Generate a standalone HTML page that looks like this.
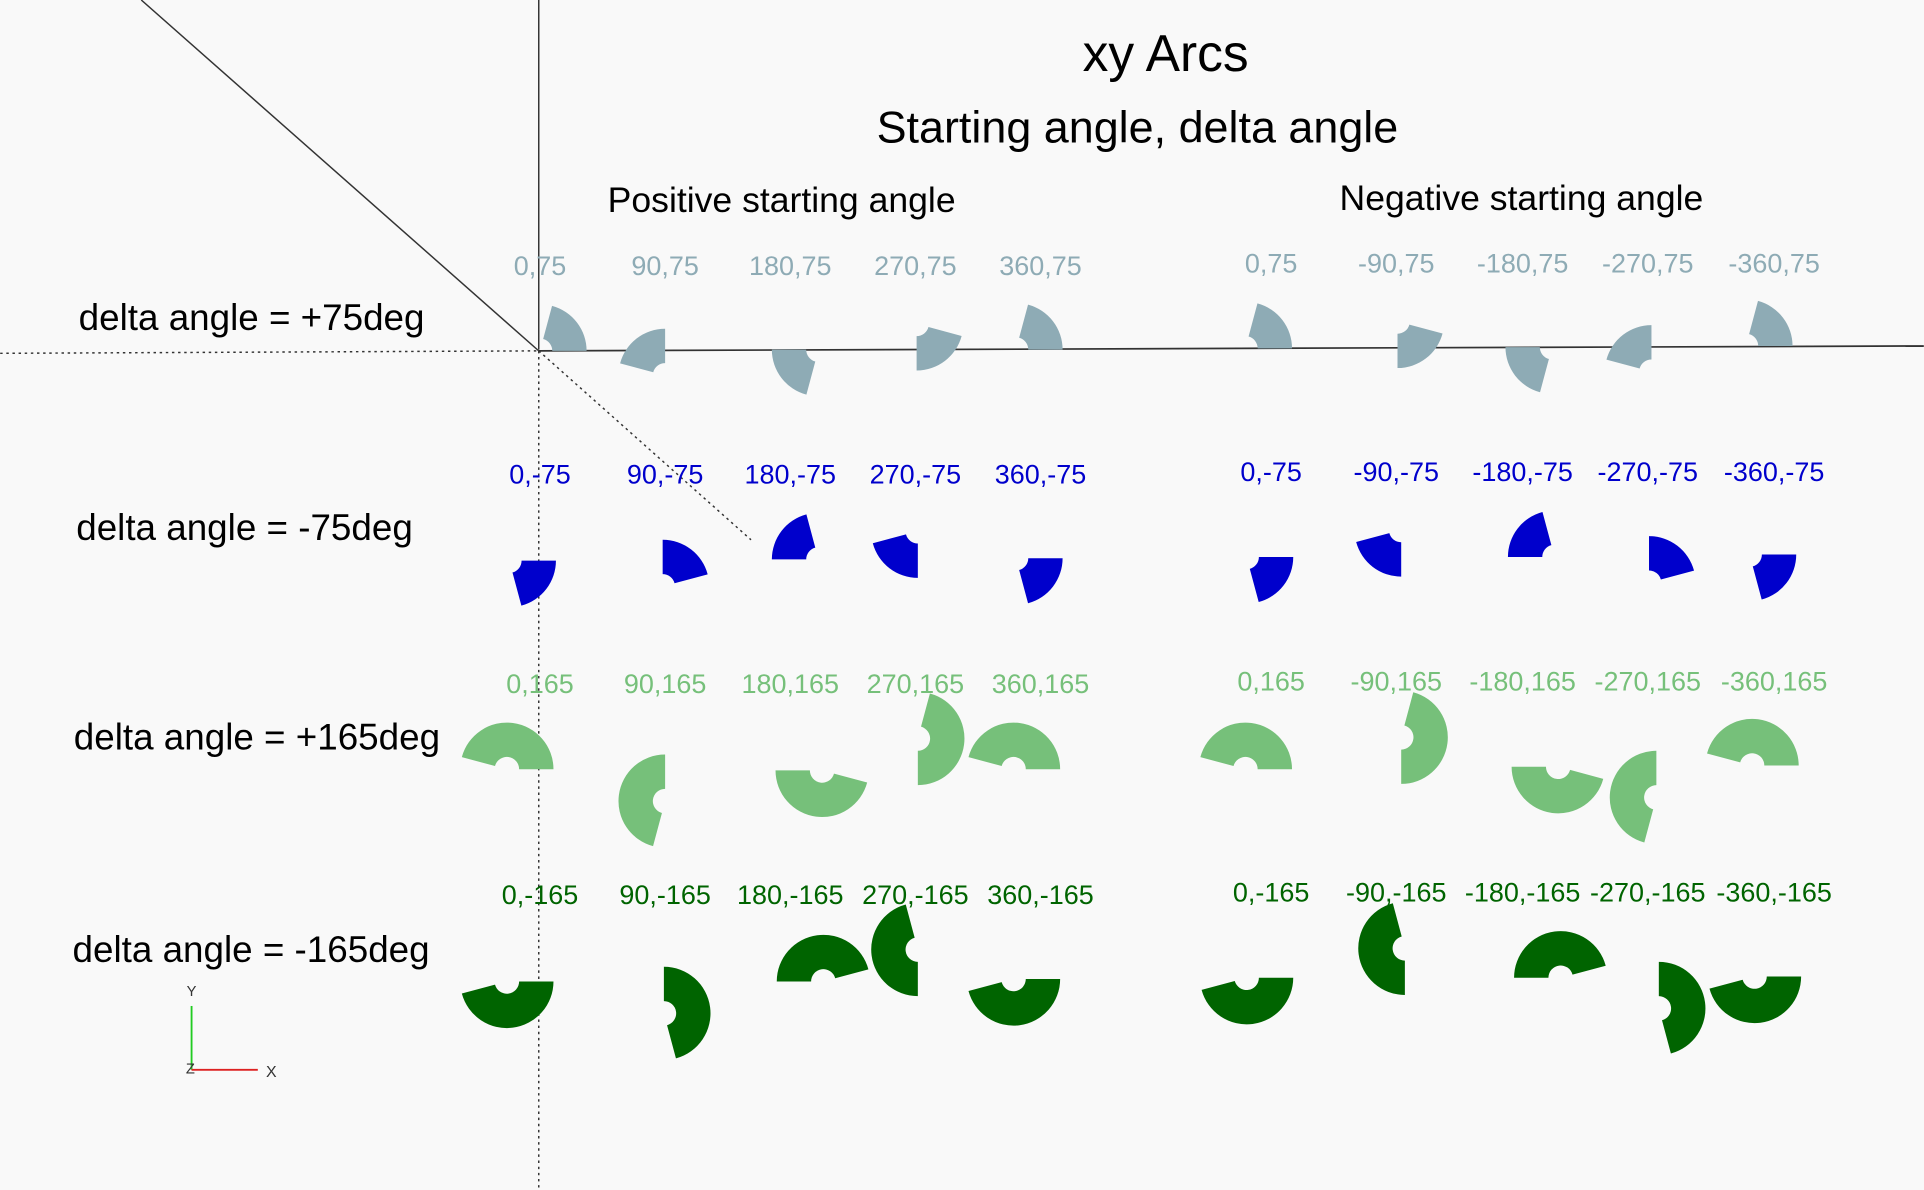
<!DOCTYPE html>
<html><head><meta charset="utf-8"><style>
html,body{margin:0;padding:0;background:#f9f9f9;}
svg{display:block;}
text{font-family:"Liberation Sans",sans-serif;}
</style></head><body>
<svg id="chart" width="1924" height="1190" viewBox="0 0 1568 970" xmlns="http://www.w3.org/2000/svg">
<rect x="0" y="0" width="1568" height="970" fill="#f9f9f9"/>
<g>
<line x1="439" y1="0" x2="439" y2="285" stroke="#333" stroke-width="1.2"/>
<line x1="439" y1="286" x2="439" y2="970" stroke="#333" stroke-width="1.2" stroke-dasharray="2,3"/>
<line x1="439" y1="286" x2="1568" y2="282" stroke="#333" stroke-width="1.4"/>
<line x1="0" y1="288" x2="439" y2="286" stroke="#333" stroke-width="1.2" stroke-dasharray="2,3"/>
<line x1="115" y1="0" x2="439" y2="286" stroke="#333" stroke-width="1.2"/>
<line x1="439" y1="286" x2="612" y2="440" stroke="#333" stroke-width="1.2" stroke-dasharray="2,3"/>
</g>
<text x="950" y="58" font-size="42" text-anchor="middle" fill="#000">xy Arcs</text>
<text x="927" y="116" font-size="36.6" text-anchor="middle" fill="#000">Starting angle, delta angle</text>
<text x="637" y="173" font-size="29" text-anchor="middle" fill="#000">Positive starting angle</text>
<text x="1240" y="171" font-size="29" text-anchor="middle" fill="#000">Negative starting angle</text>
<g id="rowlabels"></g>
<g id="arcs"></g>
<g id="labels"></g>
<g>
<line x1="156" y1="872" x2="156" y2="820" stroke="#2c2" stroke-width="1.5"/>
<line x1="156" y1="872" x2="210" y2="872" stroke="#d22" stroke-width="1.5"/>
<text x="156" y="812" font-size="12" text-anchor="middle" fill="#333">Y</text>
<text x="221" y="878" font-size="13" text-anchor="middle" fill="#333">X</text>
<text x="155" y="875" font-size="12" text-anchor="middle" fill="#333">Z</text>
</g>
</svg>
<script>
const NS = "http://www.w3.org/2000/svg";
const rowDeltas = [75, -75, 165, -165];
const rowTitles = ["delta angle = +75deg", "delta angle = -75deg", "delta angle = +165deg", "delta angle = -165deg"];
const posStarts = [0, 90, 180, 270, 360];
const negStarts = [0, -90, -180, -270, -360];
const rowColors = ["#8eabb5", "#0000cc", "#76c07a", "#006400"];
// layout (screen positions of arc centres, not data)
const layoutCenters = [
 [[440,286],[542,306],[667,285],[747,264],[828,285],[1015,284],[1139,262],[1265,283],[1346,303],[1423,282]],
 [[415,457],[540,478],[667,456],[748,433],[828,455],[1016,454],[1142,432],[1267,454],[1344,475],[1426,452]],
 [[413,627],[542,653],[670,628],[748,602],[826,627],[1015,627],[1142,601],[1270,625],[1350,650],[1428,624]],
 [[413,800],[541,826],[671,800],[748,774],[826,798],[1016,797],[1145,773],[1272,797],[1352,822],[1430,796]]
];
const labelX = [440,542,644,746,848,1036,1138,1241,1343,1446];
const labelY = [224,394,565,737];
const rowLabelY = [269,440,611,784];
const rowLabelX = [64,62,60,59];
const R_OUT = 38, R_IN = 10;

function pt(cx, cy, r, deg){ const a = deg*Math.PI/180; return [cx + r*Math.cos(a), cy - r*Math.sin(a)]; }
function arcPath(cx, cy, start, delta){
  const a1 = start, a2 = start + delta;
  const large = Math.abs(delta) > 180 ? 1 : 0;
  const sw = delta > 0 ? 0 : 1;
  const p1 = pt(cx,cy,R_OUT,a1), p2 = pt(cx,cy,R_OUT,a2), p3 = pt(cx,cy,R_IN,a2), p4 = pt(cx,cy,R_IN,a1);
  return `M${p1[0]},${p1[1]} A${R_OUT},${R_OUT} 0 ${large} ${sw} ${p2[0]},${p2[1]} L${p3[0]},${p3[1]} A${R_IN},${R_IN} 0 ${large} ${1-sw} ${p4[0]},${p4[1]} Z`;
}
const arcsG = document.getElementById('arcs');
const labelsG = document.getElementById('labels');
const rowG = document.getElementById('rowlabels');
rowDeltas.forEach((d, r) => {
  const t = document.createElementNS(NS, 'text');
  t.setAttribute('x', rowLabelX[r]); t.setAttribute('y', rowLabelY[r]);
  t.setAttribute('font-size', '30'); t.setAttribute('fill', '#000');
  t.textContent = rowTitles[r];
  
  
  rowG.appendChild(t);
  const starts = posStarts.concat(negStarts);
  starts.forEach((s, i) => {
    const c = layoutCenters[r][i];
    const p = document.createElementNS(NS, 'path');
    p.setAttribute('d', arcPath(c[0], c[1], s, d));
    p.setAttribute('fill', rowColors[r]);
    
    
    arcsG.appendChild(p);
    const l = document.createElementNS(NS, 'text');
    l.setAttribute('x', labelX[i]); l.setAttribute('y', labelY[r] - (i >= 5 ? 2 : 0));
    l.setAttribute('font-size', '22'); l.setAttribute('text-anchor', 'middle');
    l.setAttribute('fill', rowColors[r]);
    l.textContent = s + ',' + d;
    
    
    labelsG.appendChild(l);
  });
});
</script>
</body></html>
